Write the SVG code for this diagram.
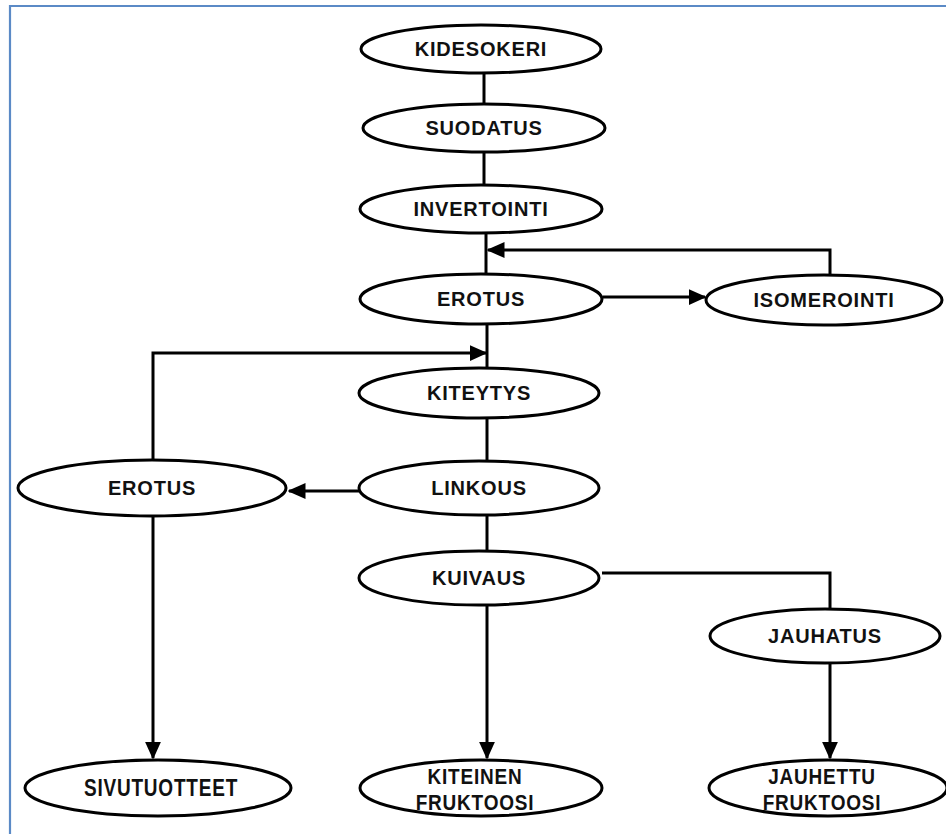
<svg xmlns="http://www.w3.org/2000/svg" width="946" height="834" viewBox="0 0 946 834">
<defs>
<marker id="ah" markerWidth="6" markerHeight="6" refX="5.5" refY="3" orient="auto" markerUnits="strokeWidth">
<path d="M0,0.3 L6,3 L0,5.7 Z" fill="#000"/>
</marker>
<style>
.n ellipse{fill:#fff;stroke:#000;stroke-width:3}
.n text{font-family:"Liberation Sans",Arial,sans-serif;font-weight:bold;font-size:20px;letter-spacing:0.8px;fill:#111;text-anchor:middle;dominant-baseline:central}
.n text.s{font-size:19px}
.c path{fill:none;stroke:#000;stroke-width:3}
.a{marker-end:url(#ah)}
</style>
</defs>
<rect width="946" height="834" fill="#fff"/>
<path d="M10,834 V6 H946" fill="none" stroke="#5b8ac6" stroke-width="2.2"/>
<g class="c" id="connectors">
<path d="M484,73 V104"/>
<path d="M484,152 V185"/>
<path d="M486,233 V275"/>
<path class="a" d="M830,275 V250 H488"/>
<path class="a" d="M603,297 H705"/>
<path d="M487,324 V368"/>
<path class="a" d="M153,461 V353 H486"/>
<path d="M487,418 V461"/>
<path class="a" d="M359,491 H289"/>
<path d="M487,515 V551"/>
<path d="M602,573 H830 V609"/>
<path class="a" d="M487,605 V758"/>
<path class="a" d="M830,663 V758"/>
<path class="a" d="M153,516 V758"/>
</g>
<g class="n" id="kidesokeri"><ellipse cx="481" cy="49" rx="120" ry="24"/><text x="481" y="49">KIDESOKERI</text></g>
<g class="n" id="suodatus"><ellipse cx="484" cy="128" rx="121" ry="24"/><text x="484" y="128">SUODATUS</text></g>
<g class="n" id="invertointi"><ellipse cx="481" cy="209" rx="121" ry="24"/><text x="481" y="209">INVERTOINTI</text></g>
<g class="n" id="erotus1"><ellipse cx="481" cy="299" rx="121" ry="25"/><text x="481" y="299">EROTUS</text></g>
<g class="n" id="isomerointi"><ellipse cx="824" cy="300" rx="118" ry="25"/><text x="824" y="300">ISOMEROINTI</text></g>
<g class="n" id="kiteytys"><ellipse cx="479" cy="393" rx="120" ry="25"/><text x="479" y="393">KITEYTYS</text></g>
<g class="n" id="linkous"><ellipse cx="479" cy="488" rx="120" ry="27"/><text x="479" y="488">LINKOUS</text></g>
<g class="n" id="erotus2"><ellipse cx="152" cy="488" rx="134" ry="28"/><text x="152" y="488">EROTUS</text></g>
<g class="n" id="kuivaus"><ellipse cx="479" cy="578" rx="120" ry="27"/><text x="479" y="578">KUIVAUS</text></g>
<g class="n" id="jauhatus"><ellipse cx="825" cy="636" rx="115" ry="27"/><text x="825" y="636">JAUHATUS</text></g>
<g class="n" id="sivutuotteet"><ellipse cx="158" cy="788" rx="133" ry="28"/><text class="s" transform="translate(161,788) scale(1,1.25)" letter-spacing="1.4">SIVUTUOTTEET</text></g>
<g class="n" id="kiteinen"><ellipse cx="481" cy="788" rx="121" ry="28"/><text class="s" transform="translate(475,776) scale(1,1.2)" letter-spacing="3">KITEINEN</text><text class="s" transform="translate(475,802) scale(1,1.2)" letter-spacing="1.2">FRUKTOOSI</text></g>
<g class="n" id="jauhettu"><ellipse cx="828" cy="788" rx="119" ry="28"/><text class="s" transform="translate(822,776) scale(1,1.2)" letter-spacing="1.2">JAUHETTU</text><text class="s" transform="translate(822,802) scale(1,1.2)" letter-spacing="1.2">FRUKTOOSI</text></g>
</svg>
